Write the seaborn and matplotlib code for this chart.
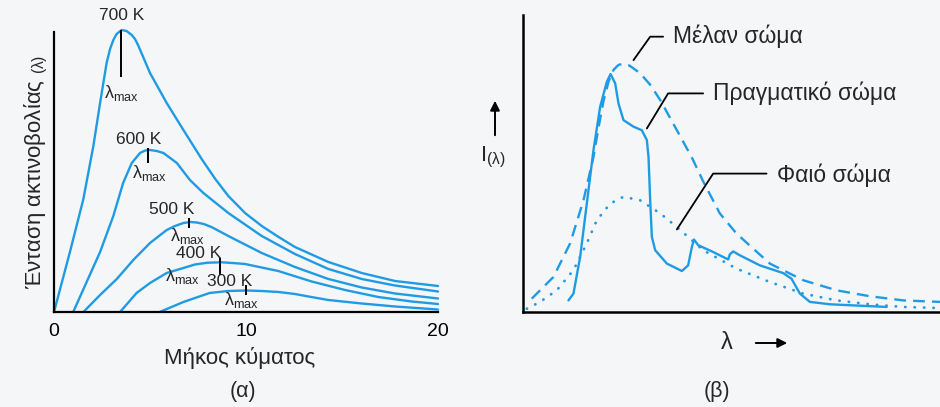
"""
Blackbody radiation: (a) Planck curves for several temperatures,
(b) black body vs real body vs grey body.
"""

import numpy as np
import pandas as pd
import matplotlib
matplotlib.use("Agg")
import matplotlib.pyplot as plt
import seaborn as sns

# ---- panel (a) data (wavelength, intensity in arbitrary units)
wl_700 = [0, 0.83, 1.53, 2.05, 2.4, 2.74, 2.92, 3.09, 3.26, 3.52, 3.78, 4.05, 4.22, 4.4, 5.0, 5.87, 6.74, 7.69,
          8.4, 9.08, 9.95, 10.82, 11.7, 12.55, 14.29, 16.03, 17.76, 20]
in_700 = [0, 6.0, 11.3, 16.6, 20.9, 24.9, 26.3, 27.2, 27.8, 28.2, 28.1, 27.7, 27.3, 26.6, 23.9, 20.9, 18.2, 15.3,
          13.3, 11.6, 9.9, 8.6, 7.5, 6.5, 5.0, 3.9, 3.1, 2.6]

wl_600 = [1.0, 1.7, 2.4, 3.09, 3.6, 4.05, 4.48, 4.75, 5.0, 5.35, 5.7, 6.4, 7.08, 7.78, 9.08, 10.82, 12.55, 14.29,
          16.03, 17.76, 20]
in_600 = [0, 3.0, 6.0, 9.6, 12.9, 14.9, 15.9, 16.15, 16.2, 16.1, 15.9, 14.9, 13.2, 11.9, 9.9, 7.6, 5.8, 4.3,
          3.3, 2.65, 2.05]

wl_500 = [1.53, 2.4, 3.27, 4.13, 5.0, 5.87, 6.3, 6.74, 7.1, 7.43, 7.8, 8.2, 9.08, 10.82, 12.55, 14.29, 16.03, 17.76, 20]
in_500 = [0, 1.7, 3.3, 5.2, 6.9, 8.2, 8.6, 8.9, 9.0, 8.95, 8.8, 8.5, 7.6, 5.9, 4.5, 3.3, 2.45, 1.85, 1.35]

wl_400 = [3.44, 4.3, 5.0, 5.87, 6.74, 7.34, 8.0, 8.73, 9.3, 9.95, 11.68, 13.42, 15.16, 16.89, 18.63, 20]
in_400 = [0, 1.9, 2.9, 3.9, 4.4, 4.75, 4.93, 4.97, 4.9, 4.8, 4.1, 3.05, 2.2, 1.5, 1.05, 0.8]

wl_300 = [5.5, 6.74, 8.1, 9.08, 10.0, 10.82, 11.7, 12.55, 13.4, 14.29, 16.03, 17.76, 20]
in_300 = [0, 1.0, 1.9, 2.1, 2.15, 2.1, 2.0, 1.8, 1.5, 1.2, 0.85, 0.55, 0.25]

temps = ["700 K", "600 K", "500 K", "400 K", "300 K"]
lam_max = [3.5, 4.9, 7.05, 8.65, 10.0]
x_ticks = [0, 10, 20]

# ---- panel (b) data (arbitrary units 0..100 on both axes)
bb_x = [2.1, 7.3, 11.3, 14.5, 16.9, 18.1, 19.3, 20.5, 21.7, 22.9, 24.1, 25.5, 28.1, 30.5, 32.9, 34.9, 36.9, 40.5,
        43.2, 47.2, 51.2, 59.2, 67.2, 75.2, 83.2, 91.2, 100]
bb_y = [4.5, 11.8, 23.1, 37.6, 52.2, 62.0, 71.0, 77.5, 81.5, 83.2, 83.6, 83.0, 80.4, 76.5, 71.4, 66.3, 61.2, 52.0,
        44.0, 33.2, 26.4, 16.3, 10.7, 7.3, 5.3, 3.9, 3.4]

real_x = [10.9, 12.1, 13.7, 15.3, 16.9, 18.5, 20.1, 21.0, 22.1, 22.9, 24.1, 26.5, 28.5, 29.7, 30.1, 30.5, 30.9, 31.7,
          34.5, 38.1, 39.6, 40.5, 41.0, 42.0, 45.6, 49.2, 49.6, 50.4, 52.0, 56.8, 62.4, 64.4, 66.4, 68.8, 73.6, 87.2]
real_y = [3.9, 6.2, 18.5, 36.5, 54.5, 69.1, 77.5, 80.1, 77.0, 70.2, 64.6, 62.4, 61.2, 57.9, 52.2, 37.6, 25.3, 20.8,
          16.3, 13.8, 15.7, 21.9, 24.4, 22.5, 20.2, 17.7, 19.4, 20.4, 19.1, 15.7, 13.1, 11.2, 6.2, 3.4, 2.6, 1.7]

grey_x = [0.9, 4.1, 8.1, 12.1, 15.3, 17.7, 20.9, 24.1, 28.1, 32.9, 36.9, 43.2, 51.2, 59.2, 67.2, 75.2, 83.2, 91.2, 99.2]
grey_y = [1.1, 3.4, 7.3, 14.1, 23.1, 30.9, 36.5, 38.8, 37.6, 33.2, 28.6, 20.8, 14.6, 10.1, 6.2, 3.9, 2.6, 1.7, 1.35]

BLUE = "#1f9be4"
BG = "#f5f6f8"
W, H = 940, 407

sns.set_style("white")
plt.rcParams["font.family"] = ["Liberation Sans", "DejaVu Sans"]
plt.rcParams["mathtext.default"] = "regular"


def px_box(x0, x1, y_top, y_bot):
    # axes rectangle from pixel positions (origin top-left)
    return [x0 / W, 1 - y_bot / H, (x1 - x0) / W, (y_bot - y_top) / H]


def fig_xy(x, y):
    return x / W, 1 - y / H


fig = plt.figure(figsize=(W / 100, H / 100), dpi=100)
fig.patch.set_facecolor(BG)

# ================= panel (a) =================
ax_a = fig.add_axes(px_box(54, 438, 32, 312))
ax_a.set_facecolor("none")

curves = pd.concat([
    pd.DataFrame({"wavelength": wl, "intensity": it, "T": t})
    for wl, it, t in zip([wl_700, wl_600, wl_500, wl_400, wl_300],
                         [in_700, in_600, in_500, in_400, in_300], temps)
])
sns.lineplot(data=curves, x="wavelength", y="intensity", hue="T", palette=[BLUE] * 5,
             estimator=None, sort=False, lw=1.7, legend=False, ax=ax_a, clip_on=False)
for ln in ax_a.lines:
    ln.set_solid_joinstyle("round")

ax_a.set_xlim(0, 20)
ax_a.set_ylim(0, 28)
ax_a.set_xticks(x_ticks)
ax_a.set_yticks([])
ax_a.set_xlabel("")
ax_a.set_ylabel("")
ax_a.tick_params(axis="x", direction="out", length=5, width=1.5, labelsize=14, pad=3, colors="black")
for side in ["top", "right"]:
    ax_a.spines[side].set_visible(False)
for side in ["left", "bottom"]:
    ax_a.spines[side].set_linewidth(1.6)
    ax_a.spines[side].set_color("black")

# lambda-max markers and labels
tick_lo = [23.5, 14.9, 8.4, 3.7, 1.7]
tick_hi = [28.2, 16.4, 9.4, 5.4, 2.7]
ax_a.vlines(lam_max, tick_lo, tick_hi, color="black", lw=1.4, clip_on=False)

temp_xy = [(3.53, 29.7), (4.39, 17.2), (6.15, 10.27), (7.55, 5.8), (9.14, 3.03)]
lmax_xy = [(3.53, 21.9), (4.95, 13.9), (6.95, 7.6), (6.67, 3.6), (9.74, 1.25)]
for t, (tx, ty), (lx, ly) in zip(temps, temp_xy, lmax_xy):
    ax_a.text(tx, ty, t, ha="center", va="center", fontsize=12.5)
    ax_a.text(lx, ly, r"$\lambda_{max}$", ha="center", va="center", fontsize=13)

fig.text(*fig_xy(36, 172), "Ένταση ακτινοβολίας" + r" ${}_{(\lambda)}$", rotation=90,
         ha="center", va="center", fontsize=16)
fig.text(*fig_xy(240, 358), "Μήκος κύματος", ha="center", va="center", fontsize=16)
fig.text(*fig_xy(243, 391), "(α)", ha="center", va="center", fontsize=15.5)

# ================= panel (b) =================
ax_b = fig.add_axes(px_box(523, 940, 15, 312))
ax_b.set_facecolor("none")

sns.lineplot(x=bb_x, y=bb_y, color=BLUE, lw=1.7, ax=ax_b, estimator=None, sort=False,
             linestyle=(0, (5, 3)))
sns.lineplot(x=real_x, y=real_y, color=BLUE, lw=1.7, ax=ax_b, estimator=None, sort=False)
grey_line = sns.lineplot(x=grey_x, y=grey_y, color=BLUE, lw=2.0, ax=ax_b, estimator=None,
                         sort=False, linestyle=(0, (0.1, 3.3))).lines[-1]
grey_line.set_dash_capstyle("round")
for ln in ax_b.lines:
    ln.set_solid_joinstyle("round")

ax_b.set_xlim(0, 100)
ax_b.set_ylim(0, 100)
ax_b.set_xticks([])
ax_b.set_yticks([])
for side in ["top", "right"]:
    ax_b.spines[side].set_visible(False)
for side in ["left", "bottom"]:
    ax_b.spines[side].set_linewidth(1.8)
    ax_b.spines[side].set_color("black")

# leader lines + captions
leaders = {
    "Μέλαν σώμα": ([26.5, 30.5, 33.6], [84.8, 92.7, 92.7], (36.0, 92.7)),
    "Πραγματικό σώμα": ([29.7, 34.8, 43.2], [61.8, 73.6, 73.6], (45.6, 73.6)),
    "Φαιό σώμα": ([36.9, 45.6, 58.4], [27.8, 46.6, 46.6], (60.8, 46.2)),
}
for name, (lx, ly, (tx, ty)) in leaders.items():
    ax_b.plot(lx, ly, color="black", lw=1.3)
    ax_b.text(tx, ty, name, ha="left", va="center", fontsize=16.5)

fig.text(*fig_xy(493, 157), r"$I_{(\lambda)}$", ha="center", va="center", fontsize=16)
ax_b.annotate("", xy=(495, H - 98), xytext=(495, H - 138), xycoords="figure pixels",
              textcoords="figure pixels",
              arrowprops=dict(arrowstyle="-|>", color="black", lw=1.4, mutation_scale=14))
fig.text(*fig_xy(727, 343), r"$\lambda$", ha="center", va="center", fontsize=17)
ax_b.annotate("", xy=(790, H - 343), xytext=(753, H - 343), xycoords="figure pixels",
              textcoords="figure pixels",
              arrowprops=dict(arrowstyle="-|>", color="black", lw=1.4, mutation_scale=14))
fig.text(*fig_xy(717, 391), "(β)", ha="center", va="center", fontsize=15.5)

fig.savefig("out.png", dpi=100, facecolor=fig.get_facecolor())
